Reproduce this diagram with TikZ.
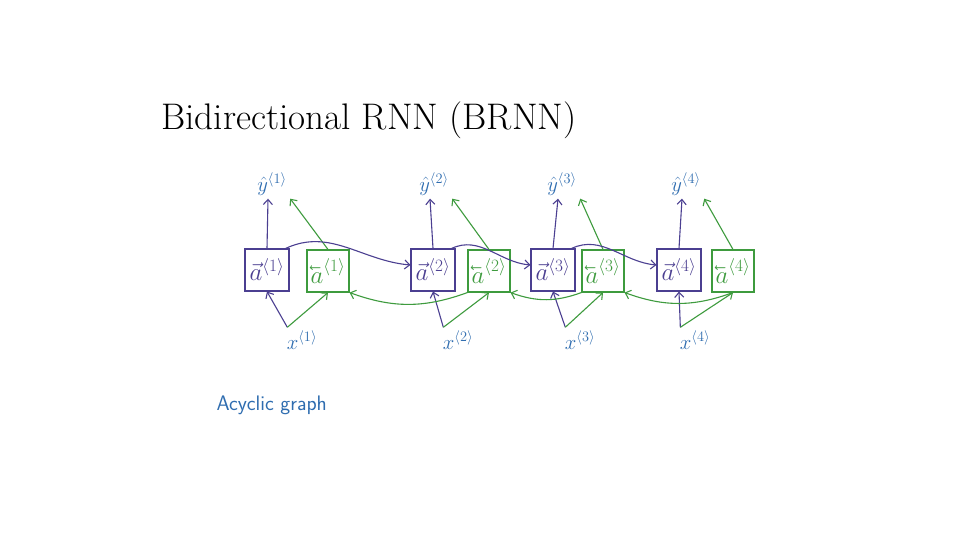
\documentclass[tikz,border=0pt]{standalone}
\usepackage{xcolor}
\usepackage{tikz}
\usetikzlibrary{positioning, arrows.meta}
\definecolor{fwdpurple}{HTML}{4B3F91}
\definecolor{bwdgreen}{HTML}{3E9B3E}
\definecolor{inkblue}{HTML}{2F6DB0}
% arrow pointing left over a letter
\newcommand{\lvec}[1]{\reflectbox{$\vec{\reflectbox{$#1$}}$}}

\begin{document}
\begin{tikzpicture}[x=1pt, y=1pt,
  fwdbox/.style={draw=fwdpurple, line width=1.1pt, minimum width=44pt, minimum height=42pt,
                 inner sep=1pt, text=fwdpurple, font=\fontsize{23}{25}\selectfont},
  bwdbox/.style={draw=bwdgreen, line width=1.1pt, minimum width=42pt, minimum height=42pt,
                 inner sep=1pt, text=bwdgreen, font=\fontsize{23}{25}\selectfont},
  fwdline/.style={draw=fwdpurple, line width=1.1pt, -{Straight Barb[length=5pt, width=9pt]}},
  bwdline/.style={draw=bwdgreen, line width=1.1pt, -{Straight Barb[length=5pt, width=9pt]}},
  inklabel/.style={text=inkblue, font=\fontsize{22}{24}\selectfont}]
  \useasboundingbox[fill=white] (0,0) rectangle (960,-540);

  \node[anchor=base west, font=\fontsize{37}{42}\selectfont] (title) at (158,-130)
    {Bidirectional RNN (BRNN)};

  % one time step: both boxes, input x and output y-hat
  \foreach \i/\fx/\bx/\yx/\xx in {1/267/328/272/302, 2/433/489/434/458,
                                  3/553/603/562/580, 4/679/733/686/695}{
    \node[fwdbox] (F\i) at (\fx,-270) {$\vec{a}^{\langle\i\rangle}$};
    \node[bwdbox] (B\i) at (\bx,-271) {$\lvec{a}^{\langle\i\rangle}$};
    \node[inklabel] (Y\i) at (\yx,-184) {$\hat{y}^{\langle\i\rangle}$};
    \node[inklabel] (X\i) at (\xx,-340) {$x^{\langle\i\rangle}$};
    \draw[fwdline] ([xshift=4pt]X\i.north west) -- (F\i.south);
    \draw[bwdline] ([xshift=4pt]X\i.north west) -- (B\i.south);
    \draw[fwdline] (F\i.north) -- ([xshift=-4pt]Y\i.south);
    \draw[bwdline] (B\i.north) -- (Y\i.south east);
  }

  % forward recurrence, over the green boxes
  \draw[fwdline] ([xshift=-4pt]F1.north east) to[out=25, in=175] ([yshift=5pt]F2.west);
  \draw[fwdline] ([xshift=-4pt]F2.north east) to[out=25, in=175] ([yshift=5pt]F3.west);
  \draw[fwdline] ([xshift=-4pt]F3.north east) to[out=25, in=175] ([yshift=5pt]F4.west);

  % backward recurrence, under the purple boxes
  \draw[bwdline] (B2.south west) to[out=200, in=-20] (B1.south east);
  \draw[bwdline] (B3.south west) to[out=200, in=-20] (B2.south east);
  \draw[bwdline] (B4.south) to[out=200, in=-20] (B3.south east);

  \node[anchor=base west, text=inkblue, font=\sffamily\fontsize{21}{24}\selectfont] (note)
    at (213,-410) {Acyclic graph};
\end{tikzpicture}
\end{document}
